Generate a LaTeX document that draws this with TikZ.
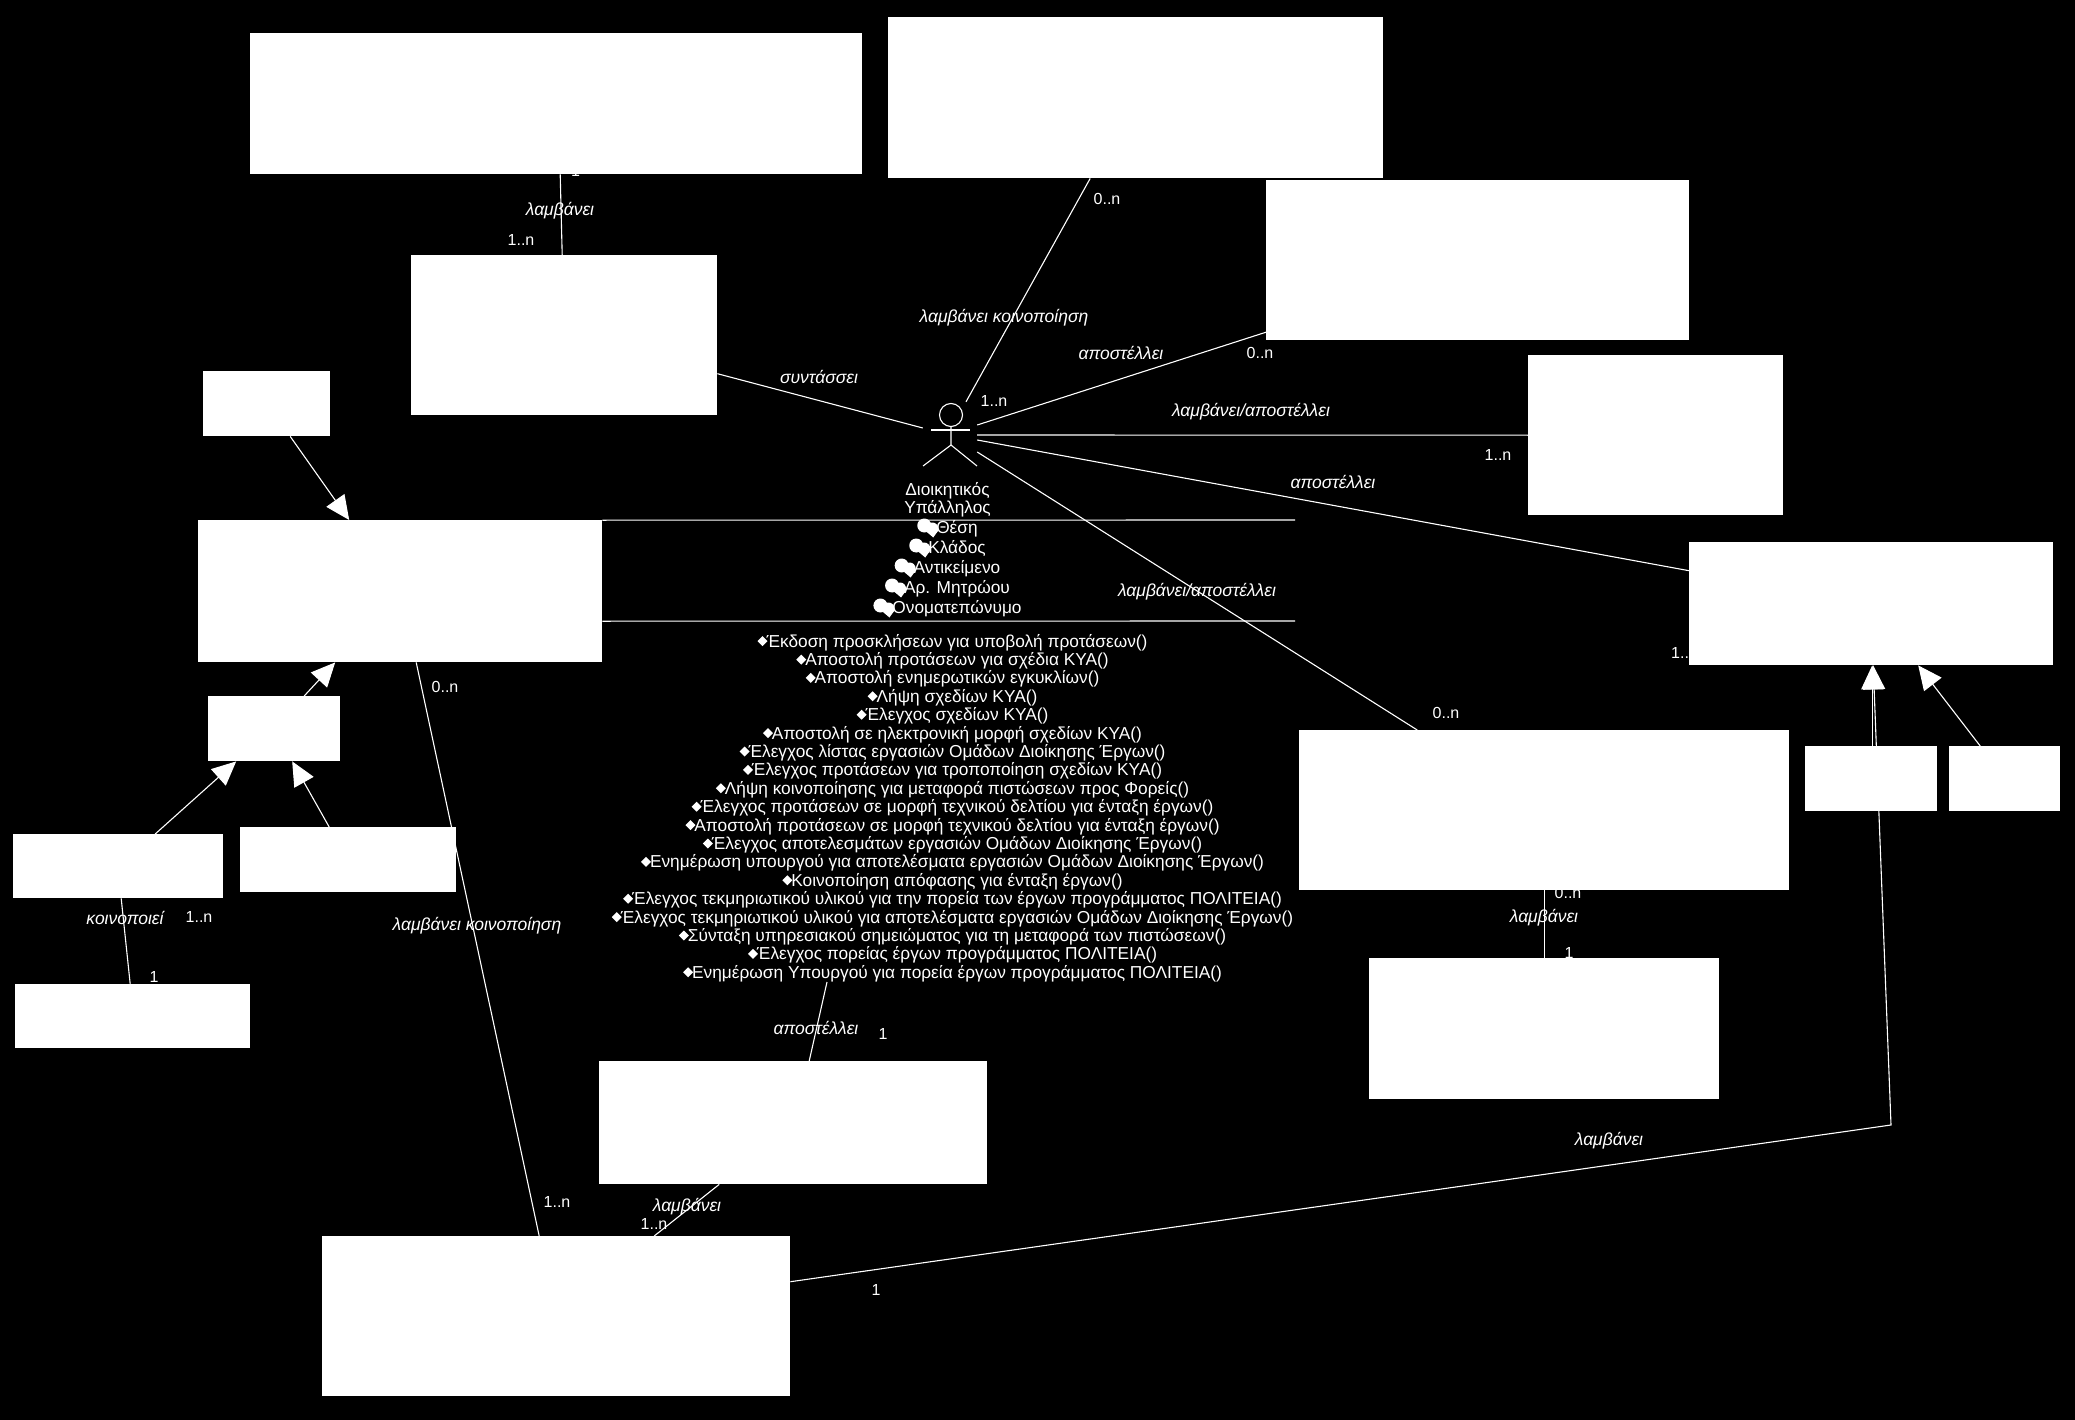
\documentclass[tikz,border=0pt]{standalone}
\usepackage{fontspec}
\setmainfont{Liberation Sans}
\usepackage{xcolor}
\usetikzlibrary{arrows.meta,backgrounds}
\pgfdeclarelayer{paper}
\pgfsetlayers{paper,background,main}
\newcommand{\opmark}{\tikz[baseline=0pt,x=1pt,y=1pt]{\fill[white] (0,6) -- (5,11) -- (10,6) -- (5,1) -- cycle;}\hspace{-1pt}}
\newcommand{\attrmark}{\tikz[baseline=0pt,x=1pt,y=1pt]{\fill[white] (7,8) circle (7); \fill[white] (15,5) circle (6); \fill[white] (9,2) -- (16,-4) -- (21,3) -- cycle;}\hspace{-2pt}}
\tikzset{
  classbox/.style={fill=white, inner sep=0pt, anchor=north west},
  assoc/.style={draw=white, line width=1.1pt},
  genarrow/.style={draw=white, line width=1.1pt, -{Triangle[length=24pt,width=22pt,fill=white]}},
  stickman/.style={draw=white, line width=1.1pt},
  rolelabel/.style={font=\fontsize{17.5}{18}\selectfont\itshape, text=white, inner sep=0pt},
  multilabel/.style={font=\fontsize{16}{18}\selectfont, text=white, inner sep=0pt},
  classtext/.style={font=\fontsize{17.3}{18.4}\selectfont, text=white, align=center, inner sep=0pt}
}
\begin{document}
\begin{tikzpicture}[x=1pt,y=-1pt]
    \useasboundingbox (0,0) rectangle (2075,1420);
    \begin{pgfonlayer}{paper}
        \fill[black] (0,0) rectangle (2075,1420);
    \end{pgfonlayer}

    \node[classbox, minimum width=612pt, minimum height=141pt] (recvdoc) at (250,33) {};
    \node[classbox, minimum width=495pt, minimum height=161pt] (notifdoc) at (888,17) {};
    \node[classbox, minimum width=423pt, minimum height=160pt] (sentdoc) at (1266,180) {};
    \node[classbox, minimum width=255pt, minimum height=160pt] (bothdoc) at (1528,355) {};
    \node[classbox, minimum width=364pt, minimum height=123pt] (rightclass) at (1689,542) {};
    \node[classbox, minimum width=132pt, minimum height=65pt] (rightsubA) at (1805,746) {};
    \node[classbox, minimum width=111pt, minimum height=65pt] (rightsubB) at (1949,746) {};
    \node[classbox, minimum width=490pt, minimum height=160pt] (midright) at (1299,730) {};
    \node[classbox, minimum width=350pt, minimum height=141pt] (lowright) at (1369,958) {};
    \node[classbox, minimum width=388pt, minimum height=123pt] (lowmid) at (599,1061) {};
    \node[classbox, minimum width=468pt, minimum height=160pt] (lowleft) at (322,1236) {};
    \node[classbox, minimum width=127pt, minimum height=65pt] (tagbox) at (203,371) {};
    \node[classbox, minimum width=404pt, minimum height=142pt] (parentclass) at (198,520) {};
    \node[classbox, minimum width=132pt, minimum height=65pt] (subclass) at (208,696) {};
    \node[classbox, minimum width=210pt, minimum height=64pt] (leafA) at (13,834) {};
    \node[classbox, minimum width=216pt, minimum height=65pt] (leafB) at (240,827) {};
    \node[classbox, minimum width=235pt, minimum height=64pt] (footclass) at (15,984) {};
    \node[classbox, minimum width=306pt, minimum height=160pt] (draftclass) at (411,255) {};

    \node[minimum width=54pt, minimum height=66pt, inner sep=0pt] (actor) at (950,435) {};
    \draw[stickman] (951,415) circle (11.5);
    \draw[stickman] (951,426) -- (951,445) -- (923,466);
    \draw[stickman] (951,445) -- (977,466);
    \draw[stickman] (931,430) -- (970,430);
    \node[classtext] (actorname) at (947.5,500) {Διοικητικός\\Υπάλληλος};
    \node[classtext] (attrlist) at (947.5,568) {\attrmark Θέση\\\attrmark Κλάδος\\\attrmark Αντικείμενο\\\attrmark Αρ. Μητρώου\\\attrmark Ονοματεπώνυμο};
    \node[classtext] (oplist) at (952.5,808) {\opmark Έκδοση προσκλήσεων για υποβολή προτάσεων()\\
        \opmark Αποστολή προτάσεων για σχέδια ΚΥΑ()\\
        \opmark Αποστολή ενημερωτικών εγκυκλίων()\\
        \opmark Λήψη σχεδίων ΚΥΑ()\\
        \opmark Έλεγχος σχεδίων ΚΥΑ()\\
        \opmark Αποστολή σε ηλεκτρονική μορφή σχεδίων ΚΥΑ()\\
        \opmark Έλεγχος λίστας εργασιών Ομάδων Διοίκησης Έργων()\\
        \opmark Έλεγχος προτάσεων για τροποποίηση σχεδίων ΚΥΑ()\\
        \opmark Λήψη κοινοποίησης για μεταφορά πιστώσεων προς Φορείς()\\
        \opmark Έλεγχος προτάσεων σε μορφή τεχνικού δελτίου για ένταξη έργων()\\
        \opmark Αποστολή προτάσεων σε μορφή τεχνικού δελτίου για ένταξη έργων()\\
        \opmark Έλεγχος αποτελεσμάτων εργασιών Ομάδων Διοίκησης Έργων()\\
        \opmark Ενημέρωση υπουργού για αποτελέσματα εργασιών Ομάδων Διοίκησης Έργων()\\
        \opmark Κοινοποίηση απόφασης για ένταξη έργων()\\
        \opmark Έλεγχος τεκμηριωτικού υλικού για την πορεία των έργων προγράμματος ΠΟΛΙΤΕΙΑ()\\
        \opmark Έλεγχος τεκμηριωτικού υλικού για αποτελέσματα εργασιών Ομάδων Διοίκησης Έργων()\\
        \opmark Σύνταξη υπηρεσιακού σημειώματος για τη μεταφορά των πιστώσεων()\\
        \opmark Έλεγχος πορείας έργων προγράμματος ΠΟΛΙΤΕΙΑ()\\
        \opmark Ενημέρωση Υπουργού για πορεία έργων προγράμματος ΠΟΛΙΤΕΙΑ()};

    \coordinate (attrtop) at (1295,520);
    \coordinate (attrbottom) at (1295,621);
    \coordinate (opsend) at (827,982);
    \coordinate (bend) at (1891,1125);

    \begin{scope}[on background layer]
        \draw[assoc] ([xshift=4pt]recvdoc.south) -- ([xshift=-2pt]draftclass.north);
        \draw[assoc] ([xshift=-45.5pt]notifdoc.south) -- ([xshift=16pt]actor.north);
        \draw[assoc] ([yshift=-38.5pt]draftclass.east) -- ([yshift=7pt]actor.west);
        \draw[assoc] ([yshift=-72pt]sentdoc.west) -- ([yshift=10pt]actor.east);
        \draw[assoc] (bothdoc.west) -- (actor.east);
        \draw[assoc] ([yshift=33pt]rightclass.west) -- ([yshift=-5pt]actor.east);
        \draw[assoc] ([xshift=-127pt]midright.north) -- ([yshift=-17pt]actor.east);
        \draw[assoc] (midright.south) -- (lowright.north);
        \draw[assoc] (opsend) -- ([xshift=16pt]lowmid.north);
        \draw[assoc] ([xshift=-74pt]lowmid.south) -- ([xshift=98pt]lowleft.north);
        \draw[assoc] ([xshift=16pt]parentclass.south) -- ([xshift=-17pt]lowleft.north);
        \draw[assoc] ([xshift=3pt]leafA.south) -- ([xshift=-2.5pt]footclass.north);
        \draw[assoc] ([yshift=71pt]parentclass.east) -- (attrtop);
        \draw[assoc] ([yshift=-30pt]parentclass.east) -- (attrbottom);

        \draw[genarrow] ([xshift=23.5pt]tagbox.south) -- ([xshift=-51pt]parentclass.north);
        \draw[genarrow] ([xshift=30pt]subclass.north) -- ([xshift=-65pt]parentclass.south);
        \draw[genarrow] ([xshift=37pt]leafA.north) -- ([xshift=-38pt]subclass.south);
        \draw[genarrow] ([xshift=-19pt]leafB.north) -- ([xshift=18pt]subclass.south);
        \draw[genarrow] ([xshift=1pt]rightsubA.north) -- ([xshift=1pt]rightclass.south);
        \draw[genarrow] ([xshift=-24.5pt]rightsubB.north) -- ([xshift=47pt]rightclass.south);
        \draw[genarrow] ([yshift=34.5pt]lowleft.east) -- (bend) -- ([xshift=2pt]rightclass.south);

        \node[rolelabel] (lblrecv) at (560,211) {λαμβάνει};
        \node[multilabel] (mrecvlow) at (521,240) {1..n};
        \node[multilabel] (mrecvtop) at (575.5,171) {1};
        \node[multilabel] (mnotiftop) at (1107,199) {0..n};
        \node[rolelabel] (lblnotif) at (1004,318) {λαμβάνει κοινοποίηση};
        \node[multilabel] (mnotifact) at (994,401) {1..n};
        \node[rolelabel] (lbldraft) at (819,377) {συντάσσει};
        \node[rolelabel] (lblsent) at (1121,353) {αποστέλλει};
        \node[multilabel] (msent) at (1260,353) {0..n};
        \node[rolelabel] (lblboth) at (1251,412) {λαμβάνει/αποστέλλει};
        \node[multilabel] (mboth) at (1498,455) {1..n};
        \node[rolelabel] (lblright) at (1333,482) {αποστέλλει};
        \node[rolelabel] (lblmid) at (1197,592) {λαμβάνει/αποστέλλει};
        \node[multilabel, anchor=west] (mright) at (1671,653) {1..n};
        \node[multilabel] (mmid) at (1446,713) {0..n};
        \node[multilabel] (mmidlow) at (1568,893) {0..n};
        \node[rolelabel] (lbllowright) at (1544,918) {λαμβάνει};
        \node[multilabel] (mlowright) at (1569,953) {1};
        \node[rolelabel] (lblbend) at (1609,1141) {λαμβάνει};
        \node[multilabel] (mlowleft) at (876,1290) {1};
        \node[rolelabel] (lblops) at (816,1028) {αποστέλλει};
        \node[multilabel] (mops) at (883,1034) {1};
        \node[rolelabel] (lbllowmid) at (687,1207) {λαμβάνει};
        \node[multilabel] (mlowmid) at (654,1224) {1..n};
        \node[multilabel] (mlowtop) at (557,1202) {1..n};
        \node[multilabel] (mparent) at (445,687) {0..n};
        \node[rolelabel] (lblparent) at (477,926) {λαμβάνει κοινοποίηση};
        \node[rolelabel] (lblleaf) at (125,918) {κοινοποιεί};
        \node[multilabel] (mleaf) at (199,917) {1..n};
        \node[multilabel] (mfoot) at (154,977) {1};
    \end{scope}
\end{tikzpicture}
\end{document}
